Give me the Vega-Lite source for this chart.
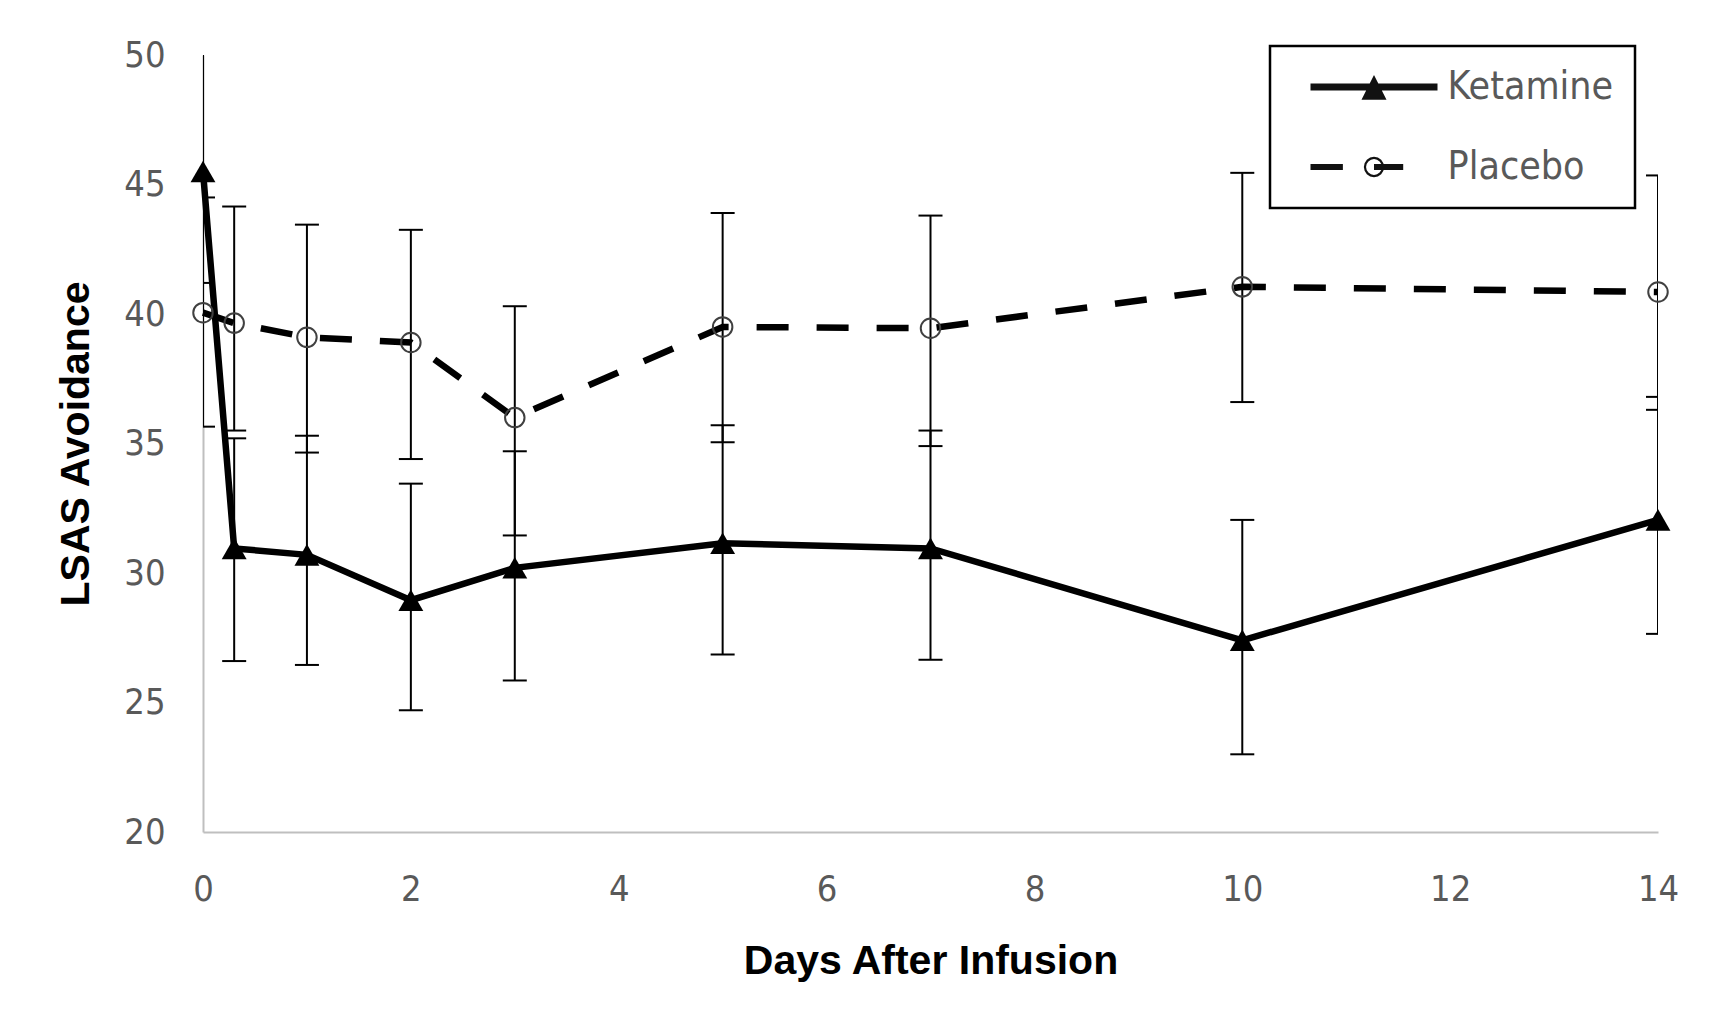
{
  "$schema": "https://vega.github.io/schema/vega-lite/v6.json",
  "width": 1455,
  "height": 777,
  "autosize": {"type": "none"},
  "padding": {"left": 203, "top": 55, "right": 56, "bottom": 200},
  "background": "white",
  "config": {"view": {"stroke": null}, "font": "DejaVu Sans Condensed", "legend": {"strokeWidth": 2.5}},
  "data": {"values": [
    {"day": 0, "group": "Ketamine", "mean": 45.5, "lo": 41.2, "hi": 50.4},
    {"day": 0.3, "group": "Ketamine", "mean": 30.95, "lo": 26.6, "hi": 35.2},
    {"day": 1, "group": "Ketamine", "mean": 30.7, "lo": 26.45, "hi": 35.3},
    {"day": 2, "group": "Ketamine", "mean": 28.95, "lo": 24.7, "hi": 33.45},
    {"day": 3, "group": "Ketamine", "mean": 30.2, "lo": 25.85, "hi": 34.7},
    {"day": 5, "group": "Ketamine", "mean": 31.15, "lo": 26.85, "hi": 35.7},
    {"day": 7, "group": "Ketamine", "mean": 30.95, "lo": 26.65, "hi": 35.5},
    {"day": 10, "group": "Ketamine", "mean": 27.4, "lo": 23.0, "hi": 32.05},
    {"day": 14, "group": "Ketamine", "mean": 32.05, "lo": 27.65, "hi": 36.8},
    {"day": 0, "group": "Placebo", "mean": 40.05, "lo": 35.65, "hi": 44.5},
    {"day": 0.3, "group": "Placebo", "mean": 39.65, "lo": 35.5, "hi": 44.15},
    {"day": 1, "group": "Placebo", "mean": 39.1, "lo": 34.65, "hi": 43.45},
    {"day": 2, "group": "Placebo", "mean": 38.9, "lo": 34.4, "hi": 43.25},
    {"day": 3, "group": "Placebo", "mean": 36.0, "lo": 31.45, "hi": 40.3},
    {"day": 5, "group": "Placebo", "mean": 39.5, "lo": 35.05, "hi": 43.9},
    {"day": 7, "group": "Placebo", "mean": 39.45, "lo": 34.9, "hi": 43.8},
    {"day": 10, "group": "Placebo", "mean": 41.05, "lo": 36.6, "hi": 45.45},
    {"day": 14, "group": "Placebo", "mean": 40.85, "lo": 36.3, "hi": 45.35}
  ]},
  "encoding": {
    "x": {
      "field": "day", "type": "quantitative",
      "scale": {"domain": [0, 14], "nice": false, "zero": false},
      "axis": {
        "values": [0, 2, 4, 6, 8, 10, 12, 14],
        "ticks": false, "grid": false,
        "domainColor": "#bfbfbf", "domainWidth": 2,
        "labelFont": "DejaVu Sans Condensed", "labelFontSize": 36, "labelColor": "#595959",
        "labelPadding": 40, "labelFlush": false, "labelOverlap": false,
        "title": "Days After Infusion",
        "titleFont": "Liberation Sans", "titleFontSize": 41, "titleFontWeight": "bold", "titleColor": "#000000",
        "titlePadding": 34
      }
    }
  },
  "layer": [
    {
      "mark": {"type": "rule", "clip": true, "color": "#000000", "strokeWidth": 2},
      "encoding": {
        "y": {
          "field": "lo", "type": "quantitative",
          "scale": {"domain": [20, 50], "nice": false, "zero": false},
          "axis": {
            "values": [20, 25, 30, 35, 40, 45, 50],
            "ticks": false, "grid": false,
            "domainColor": "#bfbfbf", "domainWidth": 2,
            "labelFont": "DejaVu Sans Condensed", "labelFontSize": 36, "labelColor": "#595959",
            "labelPadding": 38, "labelFlush": false, "labelOverlap": false,
            "title": "LSAS Avoidance",
            "titleFont": "Liberation Sans", "titleFontSize": 41, "titleFontWeight": "bold", "titleColor": "#000000",
            "titlePadding": 26
          }
        },
        "y2": {"field": "hi"}
      }
    },
    {
      "mark": {"type": "tick", "clip": true, "orient": "horizontal", "color": "#000000", "thickness": 2, "size": 24, "opacity": 1},
      "encoding": {"y": {"field": "lo", "type": "quantitative"}}
    },
    {
      "mark": {"type": "tick", "clip": true, "orient": "horizontal", "color": "#000000", "thickness": 2, "size": 24, "opacity": 1},
      "encoding": {"y": {"field": "hi", "type": "quantitative"}}
    },
    {
      "transform": [{"filter": "datum.group === 'Placebo'"}],
      "mark": {"type": "line", "color": "#000000", "strokeWidth": 6.5, "strokeDash": [32, 28]},
      "encoding": {"y": {"field": "mean", "type": "quantitative"}}
    },
    {
      "transform": [{"filter": "datum.group === 'Ketamine'"}],
      "mark": {"type": "line", "color": "#000000", "strokeWidth": 6.5},
      "encoding": {"y": {"field": "mean", "type": "quantitative"}}
    },
    {
      "transform": [{"filter": "datum.group === 'Placebo'"}],
      "mark": {"type": "point", "shape": "circle", "filled": false, "fill": "transparent", "stroke": "#404040", "strokeWidth": 2, "size": 380, "opacity": 1},
      "encoding": {"y": {"field": "mean", "type": "quantitative"}}
    },
    {
      "transform": [{"filter": "datum.group === 'Ketamine'"}],
      "mark": {"type": "point", "shape": "triangle-up", "filled": true, "color": "#000000", "size": 620, "opacity": 1},
      "encoding": {"y": {"field": "mean", "type": "quantitative"}}
    },
    {
      "mark": {"type": "point", "filled": true, "fill": "#111111", "strokeWidth": 0, "size": 100, "opacity": 0},
      "encoding": {
        "y": {"field": "mean", "type": "quantitative"},
        "shape": {
          "field": "group", "type": "nominal",
          "scale": {"domain": ["Ketamine", "Placebo"], "range": [
            "M-1,-0.055L1,-0.055L1,0.055L-1,0.055ZM-0.197,0.2L0,-0.19L0.197,0.2Z",
            "M-1,-0.047L-0.49,-0.047L-0.49,0.047L-1,0.047ZM0.16,0L0.148,0.061L0.113,0.113L0.061,0.148L0,0.16L-0.061,0.148L-0.113,0.113L-0.148,0.061L-0.16,0L-0.148,-0.061L-0.113,-0.113L-0.061,-0.148L0,-0.16L0.061,-0.148L0.113,-0.113L0.148,-0.061ZM0.125,0L0.1155,-0.0478L0.0884,-0.0884L0.0478,-0.1155L0,-0.125L-0.0478,-0.1155L-0.0884,-0.0884L-0.1155,-0.0478L-0.125,0L-0.1155,0.0478L-0.0884,0.0884L-0.0478,0.1155L0,0.125L0.0478,0.1155L0.0884,0.0884L0.1155,0.0478ZM0,-0.047L0.46,-0.047L0.46,0.047L0,0.047Z"
          ]},
          "legend": {
            "title": null,
            "orient": "none", "legendX": 1067, "legendY": -9,
            "direction": "vertical", "columns": 1,
            "strokeColor": "#000000",
            "padding": 21, "clipHeight": 40, "rowPadding": 40,
            "symbolOffset": 19.5, "labelOffset": 10,
            "symbolSize": 16129, "symbolStrokeWidth": 0, "symbolFillColor": "#111111", "symbolOpacity": 1,
            "labelFont": "DejaVu Sans Condensed", "labelFontSize": 39, "labelColor": "#595959", "labelLimit": 400
          }
        }
      }
    }
  ]
}
